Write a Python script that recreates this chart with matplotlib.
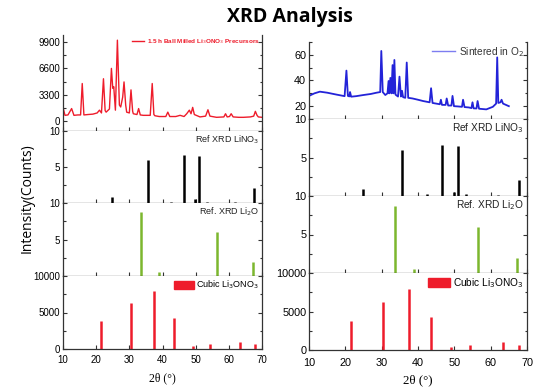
import matplotlib
matplotlib.use('Agg')
import matplotlib.pyplot as plt
from matplotlib.patches import Patch
from matplotlib.ticker import MultipleLocator

# ball milled precursor pattern (2theta, counts)
bm_x = [10.0, 10.6, 11.5, 12.6, 13.3, 14.5, 15.3, 15.8, 16.3, 17.5, 19.0, 20.3,
        21.0, 21.6, 22.2, 22.7, 23.0, 24.0, 24.6, 25.0, 25.3, 25.8, 26.4, 27.0,
        27.4, 28.0, 28.4, 28.9, 29.2, 30.0, 30.5, 31.0, 31.2, 32.3, 32.8, 33.3,
        34.2, 36.3, 36.9, 37.4, 37.7, 39.0, 41.0, 41.6, 42.2, 44.0, 45.3, 46.5,
        47.3, 48.1, 48.6, 49.1, 49.6, 51.3, 53.0, 53.7, 54.3, 56.3, 58.5, 59.0,
        59.5, 60.2, 60.7, 61.3, 63.0, 64.4, 66.5, 67.5, 68.0, 68.5, 68.9, 70.0]
bm_y = [1700, 700, 750, 1550, 700, 750, 750, 4700, 750, 800, 850, 1000,
        1350, 1000, 5300, 1300, 1100, 1500, 6600, 4100, 4300, 1350, 10150, 2000,
        1750, 3000, 4900, 2000, 1100, 1000, 3900, 1200, 900, 800, 1550, 750,
        700, 700, 4700, 800, 650, 550, 550, 1100, 550, 550, 700, 550,
        900, 1350, 900, 1700, 800, 500, 600, 1400, 600, 450, 500, 900,
        500, 550, 900, 500, 450, 450, 500, 600, 1200, 700, 500, 450]

# sintered in O2 pattern
s_x = [10.0, 11.5, 13.0, 15.0, 17.6, 19.8, 20.3, 20.7, 21.1, 21.3, 21.6, 23.0,
       25.0, 27.0, 28.6, 29.6, 29.9, 30.3, 31.0, 31.6, 31.9, 32.1, 32.4, 32.7,
       33.0, 33.25, 33.5, 33.8, 34.5, 34.9, 35.3, 35.6, 35.9, 36.5, 36.9, 37.3,
       38.5, 40.0, 41.4, 43.2, 43.6, 44.0, 45.0, 46.0, 46.3, 46.6, 47.6, 47.9,
       48.3, 49.2, 49.5, 49.9, 51.0, 52.1, 52.4, 52.8, 54.0, 54.7, 55.0, 55.3,
       56.1, 56.4, 56.8, 58.8, 60.6, 61.5, 61.8, 62.1, 62.7, 63.0, 63.4, 65.0]
s_y = [28, 30, 31.3, 30.5, 29, 27.8, 47.7, 28, 27.6, 31, 27.4, 27.8,
       28.7, 29.5, 30.5, 31, 63, 31, 28.7, 30, 39.6, 30, 42, 30,
       52, 30, 56, 29, 27.5, 43, 27.5, 32, 27, 26.5, 54, 26.5,
       26, 25, 24, 23, 34, 22.5, 22, 21.5, 25, 21, 21, 26,
       20.5, 20.5, 28, 20, 19.8, 19.5, 25, 19.3, 19, 18.5, 23, 18.3,
       18.2, 24, 18, 17.5, 19.5, 22, 58, 22.5, 23, 25, 22, 20]

# reference stick patterns
lino3_pos = [24.8, 35.5, 42.5, 46.5, 49.8, 51.1, 53.3, 61.9, 67.7]
lino3_h = [0.85, 6.0, 0.2, 6.6, 0.5, 6.5, 0.2, 0.15, 2.1]
li2o_pos = [33.6, 38.9, 56.4, 67.3]
li2o_h = [8.7, 0.5, 6.0, 1.9]
cubic_pos = [21.5, 30.5, 37.5, 43.6, 49.1, 54.3, 63.4, 67.9]
cubic_h = [3800, 6250, 7900, 4300, 400, 700, 1000, 650]

RED = '#ee1c2b'
GREEN = '#7cb72e'
BLUE = '#2323d8'
SP = '#333333'

plt.rcParams['font.family'] = ['Liberation Sans', 'DejaVu Sans']

fig = plt.figure(figsize=(5.41, 3.89), dpi=100)


def style(ax, fs, xpad):
    ax.set_xlim(10, 70)
    ax.xaxis.set_major_locator(MultipleLocator(10))
    ax.tick_params(which='both', direction='in', right=True, labelsize=fs,
                   color=SP, length=3, width=0.8, pad=2)
    ax.tick_params(axis='x', pad=xpad)
    ax.tick_params(which='minor', length=1.8)
    ax.spines['top'].set_visible(False)
    for s in ['left', 'right', 'bottom']:
        ax.spines[s].set_color(SP)
        ax.spines[s].set_linewidth(0.9)


def make_stack(left, right, bottom, top, ratios, fs, xpad):
    gs = fig.add_gridspec(4, 1, left=left, right=right, bottom=bottom, top=top,
                          hspace=0, height_ratios=ratios)
    axs = [fig.add_subplot(gs[i]) for i in range(4)]
    for ax in axs:
        style(ax, fs, xpad)
    for ax in axs[:-1]:
        ax.tick_params(labelbottom=False)

    # ref LiNO3
    ax = axs[1]
    ax.vlines(lino3_pos, 0, lino3_h, color='black', lw=1.8)
    ax.set_ylim(0, 10)
    ax.set_yticks([5, 10])
    ax.yaxis.set_minor_locator(MultipleLocator(2.5))
    ax.text(0.985, 0.97, 'Ref XRD LiNO$_3$', transform=ax.transAxes, ha='right',
            va='top', fontsize=fs - 0.5, color='#222222')

    # ref Li2O
    ax = axs[2]
    ax.vlines(li2o_pos, 0, li2o_h, color=GREEN, lw=1.8)
    ax.set_ylim(0, 10)
    ax.set_yticks([5, 10])
    ax.yaxis.set_minor_locator(MultipleLocator(2.5))
    ax.text(0.985, 0.97, 'Ref. XRD Li$_2$O', transform=ax.transAxes, ha='right',
            va='top', fontsize=fs - 0.5, color='#222222')

    # cubic Li3ONO3
    ax = axs[3]
    ax.vlines(cubic_pos, 0, cubic_h, color=RED, lw=1.8)
    ax.set_ylim(0, 10000)
    ax.set_yticks([0, 5000, 10000])
    ax.yaxis.set_minor_locator(MultipleLocator(2500))
    ax.legend(handles=[Patch(color=RED, label='Cubic Li$_3$ONO$_3$')],
              loc='upper right', frameon=False, fontsize=fs - 0.5,
              handlelength=2.2, handleheight=1.0, handletextpad=0.3,
              borderaxespad=0.1, borderpad=0.2)
    ax.set_xlabel('2θ (°)', family='Liberation Serif', fontsize=fs + 1.5, labelpad=5)
    return axs


# left stack
axl = make_stack(63/541, 262/541, 40/389, 354/389, [96, 72, 73, 73], 7, 4.5)
ax = axl[0]
ax.plot(bm_x, bm_y, color=RED, lw=1.0, label='1.5 h Ball Milled Li$_3$ONO$_3$ Precursors')
ax.set_ylim(-1270, 10800)
ax.set_yticks([0, 3300, 6600, 9900])
ax.yaxis.set_minor_locator(MultipleLocator(1650))
ax.legend(loc='upper right', frameon=False, prop=dict(size=4.6, weight='bold'),
          labelcolor=RED, handlelength=2.0, handletextpad=0.4,
          borderaxespad=0.1, borderpad=0.2)

# right stack
axr = make_stack(309/541, 527/541, 39/389, 347/389, [1, 1, 1, 1], 7.8, 5.5)
ax = axr[0]
ax.plot(s_x, s_y, color=BLUE, lw=1.3, label='Sintered in O$_2$')
ax.set_ylim(10, 70)
ax.set_yticks([20, 40, 60])
ax.yaxis.set_minor_locator(MultipleLocator(10))
ax.legend(loc='upper right', frameon=False, fontsize=7.3, labelcolor='#333333',
          handlelength=2.3, handletextpad=0.4, borderaxespad=0.1, borderpad=0.2)
ax.get_legend().get_lines()[0].set_color('#7d7df0')
ax.get_legend().get_lines()[0].set_linewidth(1.0)

fig.text(0.536, 0.956, 'XRD Analysis', ha='center', va='center', fontsize=14,
         weight='bold', family='Open Sans')
fig.text(0.05, 0.491, 'Intensity(Counts)', ha='center', va='center', rotation=90,
         fontsize=10, family='Open Sans')

fig.savefig('out.png', dpi=100)
